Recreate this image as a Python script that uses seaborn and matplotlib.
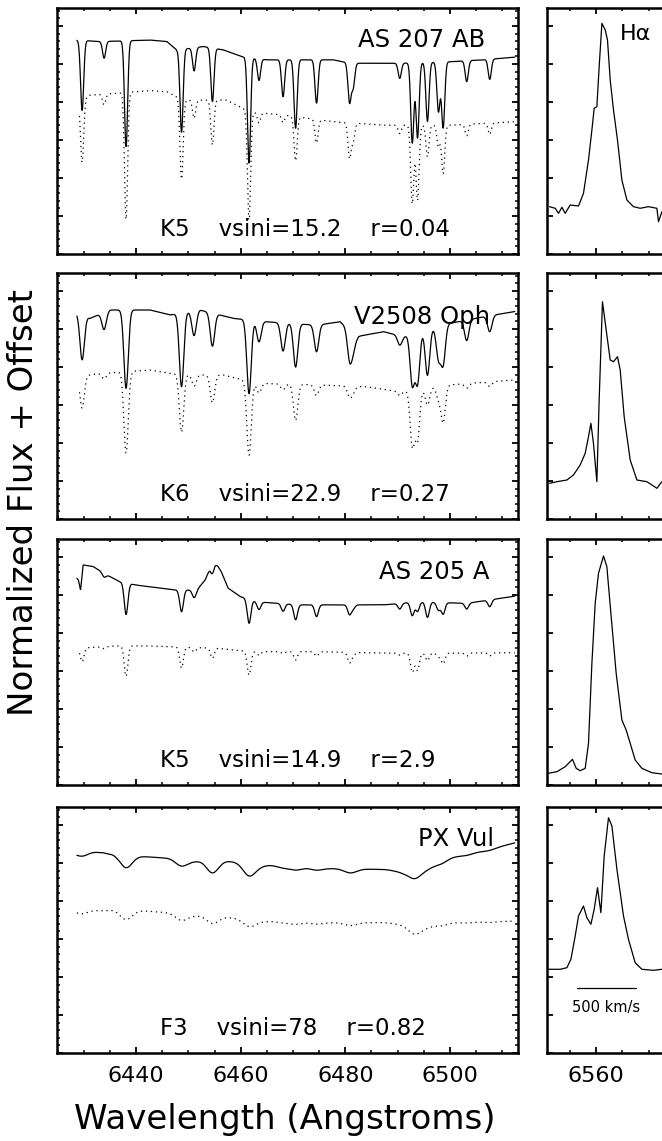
import numpy as np
import matplotlib
matplotlib.use("Agg")
import matplotlib.pyplot as plt
import seaborn as sns
from matplotlib.ticker import MultipleLocator

# 흡수선 중심 파장 (Angstrom) - 그림에서 읽은 값
line_wl = [6429.7, 6433.9, 6438.1, 6448.7, 6451.1, 6454.6, 6461.6, 6463.5, 6468.1,
           6470.5, 6474.5, 6480.8, 6481.5, 6490.4, 6492.8, 6493.8, 6495.7, 6497.8,
           6498.7, 6503.2, 6507.6]

# AS 207 AB
p1_obs_kw = [6428.7, 6433.1, 6442.7, 6445.9, 6447.8, 6452.9, 6456.7, 6460.4, 6465.0, 6477.7, 6480.9, 6490.4, 6500.0, 6506.3, 6512.4]
p1_obs_kl = [5.63, 5.59, 5.63, 5.59, 5.37, 5.46, 5.37, 5.19, 5.11, 5.11, 5.02, 5.02, 5.06, 5.11, 5.18]
p1_obs_d = [1.84, 0.44, 2.78, 2.18, 0.61, 1.41, 2.78, 0.57, 0.97, 1.80, 1.14, 1.02, 0.62, 0.40,
            2.11, 1.98, 1.55, 1.30, 1.73, 0.55, 0.53]
p1_tpl_kw = [6429.2, 6431.2, 6436.3, 6442.7, 6445.9, 6449.0, 6455.4, 6457.3, 6461.8, 6468.1, 6477.7, 6487.3, 6500.0, 6512.4]
p1_tpl_kl = [4.05, 4.18, 4.23, 4.30, 4.27, 4.05, 4.05, 4.05, 3.74, 3.66, 3.48, 3.39, 3.39, 3.48]
p1_tpl_d = [1.67, 0.28, 3.34, 2.10, 0.48, 1.18, 2.86, 0.27, 0.20, 1.16, 0.62, 0.91, 0.47, 0.22,
            2.06, 1.97, 0.83, 0.57, 1.27, 0.30, 0.30]

# V2508 Oph
p2_obs_kw = [6428.7, 6431.2, 6435.0, 6442.7, 6446.5, 6452.2, 6458.6, 6465.0, 6474.5, 6479.0, 6482.2, 6487.3, 6491.1, 6500.0, 6506.4, 6512.4]
p2_obs_kl = [5.41, 5.28, 5.50, 5.50, 5.37, 5.50, 5.28, 5.19, 5.10, 5.19, 4.80, 4.93, 4.80, 5.15, 5.32, 5.46]
p2_obs_d = [1.17, 0.45, 2.06, 1.94, 0.65, 0.87, 1.94, 0.55, 0.74, 1.14, 0.70, 0.75, 0.40, 0.25,
            1.32, 1.32, 1.20, 0.82, 1.00, 0.54, 0.42]
p2_tpl_kw = [6429.2, 6433.1, 6442.7, 6446.5, 6452.2, 6456.7, 6463.1, 6474.5, 6484.1, 6490.4, 6500.0, 6512.4]
p2_tpl_kl = [3.75, 3.83, 3.92, 3.83, 3.79, 3.79, 3.57, 3.53, 3.48, 3.35, 3.53, 3.66]
p2_tpl_d = [0.84, 0.15, 2.14, 1.53, 0.30, 0.73, 1.94, 0.25, 0.15, 0.95, 0.28, 0.27, 0.15, 0.10,
            1.45, 1.32, 0.45, 0.30, 0.95, 0.12, 0.12]

# AS 205 A
p3_obs_kw = [6428.7, 6429.0, 6429.4, 6429.9, 6431.8, 6434.4, 6436.9, 6440.1, 6444.6, 6447.8, 6451.6, 6453.2, 6454.1,
             6455.1, 6455.7, 6456.3, 6457.6, 6459.9, 6463.1, 6471.3, 6487.3, 6493.7, 6503.2, 6512.4]
p3_obs_kl = [5.44, 5.39, 5.13, 5.79, 5.75, 5.53, 5.35, 5.26, 5.18, 5.13, 5.13, 5.39, 5.70,
             5.83, 5.75, 5.61, 5.18, 4.96, 4.82, 4.74, 4.74, 4.82, 4.78, 4.97]
p3_obs_d = [0.0, 0.10, 0.83, 0.57, 0.20, 0.20, 0.63, 0.20, 0.20, 0.40, 0.31, 0.25, 0.10, 0.15,
            0.35, 0.25, 0.40, 0.20, 0.30, 0.15, 0.18]
p3_tpl_kw = [6429.2, 6436.3, 6442.7, 6450.3, 6455.4, 6461.8, 6474.5, 6487.3, 6500.0, 6512.4]
p3_tpl_kl = [3.60, 3.66, 3.66, 3.62, 3.60, 3.51, 3.51, 3.47, 3.47, 3.48]
p3_tpl_d = [0.36, 0.05, 0.80, 0.55, 0.12, 0.27, 0.62, 0.10, 0.05, 0.22, 0.12, 0.27, 0.08, 0.05,
            0.50, 0.45, 0.20, 0.10, 0.28, 0.08, 0.08]

# PX Vul
p4_obs_kw = [6428.7, 6433.7, 6436.2, 6440.1, 6444.6, 6451.0, 6457.3, 6463.1, 6474.5, 6487.3, 6491.1, 6496.8, 6500.0, 6506.4, 6512.4]
p4_obs_kl = [5.27, 5.32, 5.23, 5.18, 5.14, 5.10, 5.05, 4.97, 4.86, 4.83, 4.79, 5.01, 5.14, 5.32, 5.53]
p4_obs_d = [0.10, 0.05, 0.33, 0.19, 0.05, 0.33, 0.32, 0.05, 0.05, 0.08, 0.05, 0.08, 0.03, 0.03,
            0.15, 0.15, 0.10, 0.05, 0.05, 0.03, 0.03]
p4_tpl_kw = [6428.7, 6435.0, 6441.4, 6445.3, 6451.6, 6458.0, 6465.0, 6474.5, 6487.3, 6491.1, 6500.0, 6512.4]
p4_tpl_kl = [3.74, 3.78, 3.74, 3.70, 3.65, 3.56, 3.47, 3.43, 3.43, 3.40, 3.43, 3.47]
p4_tpl_d = [0.08, 0.03, 0.25, 0.18, 0.04, 0.20, 0.18, 0.03, 0.03, 0.06, 0.04, 0.06, 0.02, 0.02,
            0.15, 0.15, 0.08, 0.04, 0.04, 0.02, 0.02]

line_sigma = [0.30, 0.42, 0.35, 1.15]

# H-alpha 프로파일 (파장, flux+offset)
ha1_wl = [6551.08, 6552.17, 6552.80, 6553.45, 6554.08, 6555.03, 6556.62, 6557.57, 6558.53, 6559.18, 6559.62,
          6560.13, 6560.57, 6561.09, 6561.72, 6562.16, 6562.68, 6563.31, 6564.07, 6564.91, 6565.87, 6567.13,
          6568.41, 6569.99, 6571.60, 6571.91, 6572.56]
ha1_fl = [1.245, 1.203, 1.071, 1.229, 1.071, 1.289, 1.263, 1.597, 2.474, 3.263, 3.834,
          3.876, 4.929, 6.071, 5.895, 5.632, 4.579, 3.789, 3.000, 1.947, 1.421, 1.245,
          1.203, 1.245, 1.203, 0.850, 1.113]
ha2_wl = [6551.08, 6552.49, 6554.40, 6555.66, 6556.94, 6557.90, 6558.53, 6558.99, 6559.48, 6560.13, 6560.57,
          6561.20, 6561.91, 6562.68, 6563.31, 6564.07, 6564.59, 6565.35, 6566.50, 6567.78, 6569.69, 6571.60, 6572.56]
ha2_fl = [0.939, 0.982, 1.026, 1.158, 1.421, 1.729, 2.166, 2.518, 1.992, 0.982, 3.132,
          5.718, 4.974, 4.184, 4.139, 4.271, 3.921, 2.692, 1.553, 1.026, 0.982, 0.808, 0.982]
ha3_wl = [6550.88, 6552.49, 6554.08, 6555.47, 6556.18, 6556.94, 6557.90, 6558.53, 6559.18, 6559.81, 6560.44,
          6561.40, 6562.04, 6562.81, 6563.82, 6564.91, 6565.73, 6566.50, 6567.45, 6568.73, 6570.64, 6572.56]
ha3_fl = [0.308, 0.350, 0.482, 0.676, 0.439, 0.376, 0.439, 1.097, 3.203, 4.782, 5.571,
          6.026, 5.745, 4.518, 2.939, 1.711, 1.447, 1.097, 0.658, 0.439, 0.324, 0.289]
ha4_wl = [6550.88, 6553.12, 6554.40, 6555.17, 6555.99, 6556.62, 6557.57, 6558.22, 6558.99, 6559.62, 6560.25,
          6560.90, 6561.53, 6562.35, 6563.00, 6563.96, 6565.22, 6566.17, 6567.45, 6568.73, 6570.95, 6572.56]
ha4_fl = [2.203, 2.203, 2.245, 2.466, 3.079, 3.605, 3.868, 3.561, 3.387, 3.782, 4.350,
          3.692, 5.184, 6.192, 5.974, 4.834, 3.605, 2.992, 2.376, 2.203, 2.176, 2.203]

star_names = ["AS 207 AB", "V2508 Oph", "AS 205 A", "PX Vul"]
star_info = ["K5    vsini=15.2    r=0.04", "K6    vsini=22.9    r=0.27",
             "K5    vsini=14.9    r=2.9", "F3    vsini=78    r=0.82"]

panels = [
    (p1_obs_kw, p1_obs_kl, p1_obs_d, p1_tpl_kw, p1_tpl_kl, p1_tpl_d, ha1_wl, ha1_fl),
    (p2_obs_kw, p2_obs_kl, p2_obs_d, p2_tpl_kw, p2_tpl_kl, p2_tpl_d, ha2_wl, ha2_fl),
    (p3_obs_kw, p3_obs_kl, p3_obs_d, p3_tpl_kw, p3_tpl_kl, p3_tpl_d, ha3_wl, ha3_fl),
    (p4_obs_kw, p4_obs_kl, p4_obs_d, p4_tpl_kw, p4_tpl_kl, p4_tpl_d, ha4_wl, ha4_fl),
]


def make_spectrum(kw, kl, depths, sigma):
    wl = np.arange(kw[0], kw[-1], 0.04)
    flux = np.interp(wl, kw, kl)
    for c, d in zip(line_wl, depths):
        flux = flux - d * np.exp(-0.5 * ((wl - c) / sigma) ** 2)
    return wl, flux


sns.set_style("ticks")
plt.rcParams['font.family'] = ['DejaVu Sans']
plt.rcParams['text.color'] = 'black'
plt.rcParams['xtick.color'] = 'black'
plt.rcParams['ytick.color'] = 'black'

fig = plt.figure(figsize=(6.62, 11.41), dpi=100)

H = 1141.0
W = 662.0
tops = [8, 273, 539, 807]
ph = 246
title_y = [0.87, 0.82, 0.865, 0.87]
title_x = [0.928, 0.939, 0.939, 0.948]


def style_axes(ax):
    for s in ax.spines.values():
        s.set_linewidth(1.8)
        s.set_color('black')
    ax.tick_params(which='both', direction='in', top=True, right=True, color='black')
    ax.tick_params(which='major', length=4.5, width=1.3)
    ax.tick_params(which='minor', length=2.3, width=1.1)
    ax.yaxis.set_major_locator(MultipleLocator(1))
    ax.yaxis.set_minor_locator(MultipleLocator(0.2))
    ax.set_yticklabels([])
    ax.set_xlabel('')
    ax.set_ylabel('')


for i, (okw, okl, od, tkw, tkl, td, hwl, hfl) in enumerate(panels):
    bottom = (H - tops[i] - ph) / H
    ax = fig.add_axes([57 / W, bottom, 461 / W, ph / H])
    wl, fl = make_spectrum(okw, okl, od, line_sigma[i])
    sns.lineplot(x=wl, y=fl, ax=ax, color='black', linewidth=0.9, estimator=None, sort=False)
    wl, fl = make_spectrum(tkw, tkl, td, line_sigma[i])
    sns.lineplot(x=wl, y=fl, ax=ax, color='black', linewidth=0.9, estimator=None, sort=False,
                 linestyle=(0, (1, 3)))
    ax.set_xlim(6424.9, 6513.0)
    ax.set_ylim(0, ph / 38.0)
    ax.xaxis.set_major_locator(MultipleLocator(20))
    ax.xaxis.set_minor_locator(MultipleLocator(5))
    style_axes(ax)
    ax.text(title_x[i], title_y[i], star_names[i], transform=ax.transAxes, ha='right', va='center',
            fontsize=17.5)
    ax.text(0.223, 0.10, star_info[i], transform=ax.transAxes, ha='left', va='center', fontsize=16.5)
    if i < 3:
        ax.set_xticklabels([])
    else:
        ax.tick_params(axis='x', which='major', labelsize=16, pad=9)

    axh = fig.add_axes([547 / W, bottom, 135 / W, ph / H])
    sns.lineplot(x=hwl, y=hfl, ax=axh, color='black', linewidth=0.9, estimator=None, sort=False)
    axh.set_xlim(6550.6, 6576.4)
    axh.set_ylim(0, ph / 38.0)
    axh.xaxis.set_major_locator(MultipleLocator(20))
    axh.xaxis.set_minor_locator(MultipleLocator(5))
    style_axes(axh)
    axh.yaxis.set_minor_locator(MultipleLocator(1))
    if i == 0:
        axh.text(6564.6, 5.79, "Hα", ha='left', va='center', fontsize=16)
    if i < 3:
        axh.set_xticklabels([])
    else:
        axh.tick_params(axis='x', which='major', labelsize=16, pad=9)
        axh.plot([6556.31, 6567.58], [1.72, 1.72], color='black', linewidth=0.9)
        axh.text(6561.9, 1.19, "500 km/s", ha='center', va='center', fontsize=10.5)

fig.text(285 / W, 1 - 1120 / H, "Wavelength (Angstroms)", ha='center', va='center', fontsize=24.5)
fig.text(24 / W, 1 - 502 / H, "Normalized Flux + Offset", ha='center', va='center',
         rotation=90, fontsize=24.5)

fig.savefig("out.png", dpi=100)
